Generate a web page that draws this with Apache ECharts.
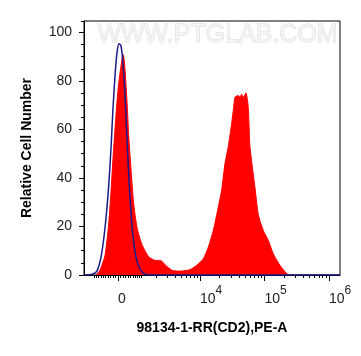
<!DOCTYPE html>
<html>
<head>
<meta charset="utf-8">
<script src="https://cdn.jsdelivr.net/npm/echarts@6/dist/echarts.min.js"></script>
<style>
  html, body { margin: 0; padding: 0; background: #fff; }
  #chart { width: 361px; height: 356px; }
</style>
</head>
<body>
<div id="chart"></div>
<script>
// histogram bins are in display units (decades, 4 = 10^4)
const redX = [2.388, 2.45, 2.527, 2.581, 2.62, 2.651, 2.682, 2.709, 2.74, 2.775, 2.806, 2.829, 2.87, 2.895, 2.93, 2.97,
  3.028, 3.106, 3.209, 3.313, 3.39, 3.468, 3.571, 3.69, 3.845, 3.949, 4.052, 4.129, 4.207, 4.284, 4.336, 4.388,
  4.439, 4.491, 4.517, 4.543, 4.594, 4.62, 4.646, 4.671, 4.713, 4.749, 4.775, 4.853, 4.904, 4.981, 5.059, 5.136,
  5.24, 5.344, 5.395];
const redY = [0, 2, 8, 20, 34, 48, 60, 70, 79, 86, 91, 88, 71, 57.5, 44, 30,
  19, 12.2, 7.4, 6, 6, 4, 1.9, 1.6, 2.2, 4, 6.7, 11.5, 18.4, 28, 35, 46,
  53, 62.4, 68, 73.3, 74, 73.3, 74.5, 73.3, 75, 69, 53, 36, 25, 18.4, 14.3, 8.8,
  4, 0.6, 0];

const blueX = [2.22, 2.33, 2.4, 2.47, 2.53, 2.58, 2.62, 2.65, 2.685, 2.715, 2.745, 2.775, 2.8, 2.83, 2.855, 2.89,
  2.93, 2.97, 3.02, 3.08, 3.15, 3.22, 6.17];
const blueY = [0, 0.3, 1.5, 8, 20, 35, 52, 68, 83, 92, 95.3, 94.5, 89, 78, 64, 44,
  26, 14, 6, 2, 0.3, 0, 0];

const xMajorTicks = [0, 1e4, 1e5, 1e6];
const xMinorTicks = [-1000, -900, -800, -700, -600, -500, -400, -300, -200, -100,
  100, 200, 300, 400, 500, 600, 700, 800, 900, 1000,
  2000, 3000, 4000, 5000, 6000, 7000, 8000, 9000,
  20000, 30000, 40000, 50000, 60000, 70000, 80000, 90000,
  200000, 300000, 400000, 500000, 600000, 700000, 800000, 900000];

// biexponential-like display transform
function biex(v) {
  const w = 536;
  return Math.log10(w) + Math.asinh(v / (2 * w)) / Math.LN10;
}

const xMin = 2.202, xMax = 6.171, yMax = 104.7;
const majorPos = xMajorTicks.map(biex);
const minorPos = xMinorTicks.map(biex).filter(d => d > xMin && d < xMax);

const chart = echarts.init(document.getElementById('chart'));
const font = 'Arial, "Liberation Sans", sans-serif';
// split lines kept on but invisible: ticks only get drawn with them on here
const hiddenSplit = { show: true, lineStyle: { color: 'rgba(0,0,0,0)', width: 1 } };

chart.setOption({
  animation: false,
  grid: { left: 84, right: 21, top: 21, bottom: 81, show: true, borderColor: '#000', borderWidth: 1 },
  graphic: [{
    type: 'text', left: 97, top: 22, silent: true,
    style: { text: 'WWW.PTGLAB.COM', font: '25px ' + font, fill: '#f4f4f4', stroke: '#d4d4d4', lineWidth: 0.8 }
  }],
  xAxis: [{
    type: 'value', min: xMin, max: xMax,
    name: '98134-1-RR(CD2),PE-A', nameLocation: 'middle', nameGap: 46,
    nameTextStyle: { fontFamily: font, fontWeight: 'bold', fontSize: 14, color: '#000' },
    axisLine: { show: true, lineStyle: { color: '#000', width: 1 } },
    splitLine: hiddenSplit,
    axisTick: { show: true, customValues: majorPos, length: 6, lineStyle: { color: '#000' } },
    axisLabel: {
      customValues: majorPos, align: 'left', verticalAlign: 'bottom', margin: 31,
      formatter: v => v < 3 ? '{b|0}' : '{b|10}{sup|' + Math.round(v) + '}',
      rich: {
        b: { fontFamily: font, fontSize: 14, color: '#222', verticalAlign: 'bottom' },
        sup: { fontFamily: font, fontSize: 12, color: '#222', verticalAlign: 'bottom', padding: [0, 0, 9, 0] }
      }
    }
  }, {
    type: 'value', min: xMin, max: xMax, position: 'bottom',
    axisLine: { show: false }, splitLine: hiddenSplit, axisLabel: { show: false },
    axisTick: { show: true, customValues: minorPos, length: 3, lineStyle: { color: '#000' } }
  }],
  yAxis: [{
    type: 'value', min: 0, max: yMax, interval: 20,
    name: 'Relative Cell Number', nameLocation: 'middle', nameGap: 50,
    nameTextStyle: { fontFamily: font, fontWeight: 'bold', fontSize: 14, color: '#000' },
    axisLine: { show: true, lineStyle: { color: '#000', width: 1 } },
    splitLine: hiddenSplit,
    axisTick: { show: true, length: 5, lineStyle: { color: '#000' } },
    axisLabel: { showMaxLabel: false, margin: 12, fontFamily: font, fontSize: 14, color: '#222' }
  }, {
    type: 'value', min: 0, max: yMax, interval: 5, position: 'left',
    axisLine: { show: false }, splitLine: hiddenSplit, axisLabel: { show: false },
    axisTick: { show: true, length: 3, lineStyle: { color: '#000' } }
  }],
  series: [{
    type: 'line', name: 'CD2', showSymbol: false, smooth: 0.2,
    data: redX.map((x, i) => [x, redY[i]]),
    lineStyle: { color: '#ff0000', width: 1 },
    areaStyle: { color: '#ff0000', opacity: 1 },
    z: 2
  }, {
    type: 'line', name: 'Control', showSymbol: false, smooth: 0.3,
    data: blueX.map((x, i) => [x, blueY[i]]),
    lineStyle: { color: '#1c1a8a', width: 1.5 },
    z: 3
  }]
});
</script>
</body>
</html>
